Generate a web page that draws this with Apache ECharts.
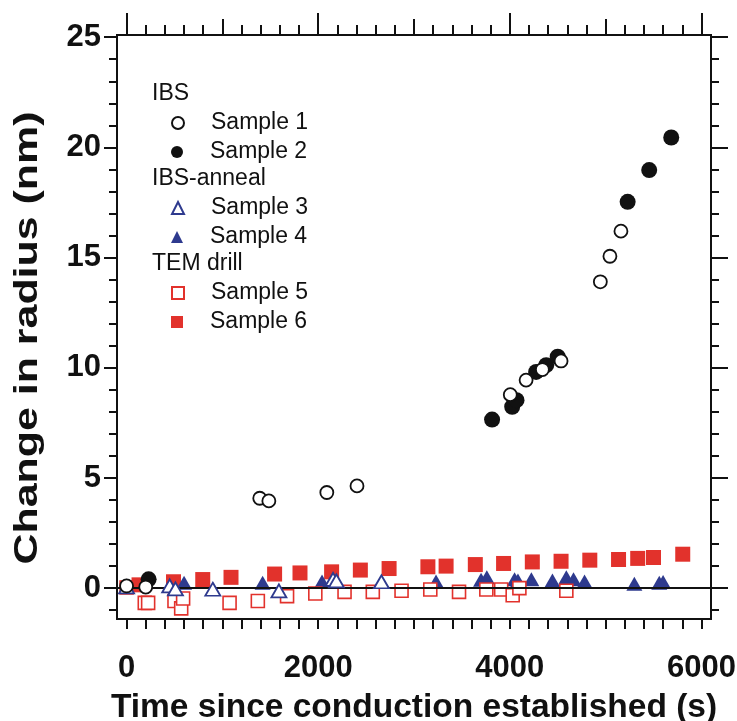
<!DOCTYPE html>
<html>
<head>
<meta charset="utf-8">
<script src="https://cdn.jsdelivr.net/npm/echarts@6/dist/echarts.min.js"></script>
<style>html,body{margin:0;padding:0;background:#fff;}#c{width:737px;height:721px;}</style>
</head>
<body>
<div id="c"></div>
<script>
// ---- data ----
const xTickLabels = [0, 2000, 4000, 6000];
const yTickLabels = [0, 5, 10, 15, 20, 25];

const s1x = [0, 200, 1390, 1485, 2090, 2405, 4005, 4170, 4340, 4535, 4945, 5045, 5160];
const s1y = [0.1, 0.05, 4.08, 3.96, 4.34, 4.64, 8.78, 9.44, 9.92, 10.31, 13.9, 15.06, 16.2];

const s2x = [230, 3815, 4025, 4070, 4275, 4380, 4500, 5230, 5455, 5685];
const s2y = [0.4, 7.65, 8.23, 8.53, 9.81, 10.12, 10.5, 17.53, 18.97, 20.45];

const s3x = [0, 450, 510, 900, 1590, 2155, 2190, 2660];
const s3y = [0.06, 0.1, -0.03, -0.05, -0.12, 0.4, 0.33, 0.29];

const s4x = [600, 1420, 2040, 3230, 3700, 3760, 4050, 4085, 4225, 4445, 4590, 4665, 4780, 5300, 5560, 5600];
const s4y = [0.25, 0.25, 0.3, 0.3, 0.38, 0.5, 0.4, 0.35, 0.4, 0.35, 0.5, 0.4, 0.3, 0.2, 0.25, 0.28];

const s5x = [0, 190, 225, 500, 570, 590, 1075, 1370, 1675, 1970, 2275, 2570, 2870, 3170, 3470, 3755, 3910, 4030, 4100, 4590];
const s5y = [0.03, -0.67, -0.67, -0.58, -0.92, -0.47, -0.67, -0.58, -0.36, -0.24, -0.17, -0.17, -0.12, -0.06, -0.17, -0.06, -0.06, -0.32, 0.0, -0.12];

const s6x = [130, 490, 795, 1090, 1545, 1810, 2140, 2440, 2740, 3145, 3335, 3640, 3935, 4235, 4535, 4835, 5135, 5335, 5500, 5805];
const s6y = [0.15, 0.29, 0.39, 0.49, 0.64, 0.69, 0.74, 0.82, 0.89, 0.97, 1.0, 1.07, 1.12, 1.19, 1.22, 1.27, 1.3, 1.35, 1.39, 1.54];

const groupHeaders = ['IBS', 'IBS-anneal', 'TEM drill'];
const sampleNames = ['Sample 1', 'Sample 2', 'Sample 3', 'Sample 4', 'Sample 5', 'Sample 6'];
const xTitle = 'Time since conduction established (s)';
const yTitle = 'Change in radius (nm)';

// ---- helpers ----
function pairs(xs, ys) { return xs.map((x, i) => [x, ys[i]]); }
function range(a, b, step) { const r = []; for (let v = a; v <= b + 1e-9; v += step) r.push(Math.round(v * 1000) / 1000); return r; }

const FONT = 'Liberation Sans';
const XMIN = -100, XMAX = 6100, YMIN = -1.4, YMAX = 25.1;
const BLACK = '#111111', BLUE = '#2e3a8e', RED = '#e2322c';

const chart = echarts.init(document.getElementById('c'), null, { renderer: 'canvas' });

const axLine = { show: true, onZero: false, lineStyle: { color: BLACK, width: 2 } };
const tickFont = { color: BLACK, fontFamily: FONT, fontWeight: 'bold', fontSize: 31, formatter: v => String(v) };
function xAx(pos, ticks, len, labels) {
  return {
    type: 'value', position: pos, min: XMIN, max: XMAX, gridIndex: 0,
    axisLine: axLine, splitLine: { show: false },
    axisTick: { show: true, inside: false, length: len, customValues: ticks, lineStyle: { color: BLACK, width: 2 } },
    axisLabel: labels ? Object.assign({ show: true, customValues: labels, margin: 34 }, tickFont) : { show: false }
  };
}
function yAx(pos, ticks, len, labels) {
  return {
    type: 'value', position: pos, min: YMIN, max: YMAX, gridIndex: 0,
    axisLine: axLine, splitLine: { show: false },
    axisTick: { show: true, inside: false, length: len, customValues: ticks, lineStyle: { color: BLACK, width: 2 } },
    axisLabel: labels ? Object.assign({ show: true, customValues: labels, margin: 16 }, tickFont) : { show: false }
  };
}

const xAxes = [
  Object.assign(xAx('bottom', range(0, 6000, 200), 10, xTickLabels), {
    name: xTitle, nameLocation: 'middle', nameGap: 72,
    nameTextStyle: { color: BLACK, fontFamily: FONT, fontWeight: 'bold', fontSize: 33.5 }
  }),
  xAx('top', [0, 2000, 4000, 6000], 22, null),
  xAx('top', [1000, 3000, 5000], 16, null),
  xAx('top', range(0, 6000, 200), 10, null)
];
const yAxes = [
  yAx('left', yTickLabels, 13, yTickLabels),
  yAx('left', range(-1, 25, 1), 8, null),
  yAx('right', yTickLabels, 17, null),
  yAx('right', range(-1, 25, 1), 8, null)
];

function sc(name, data, symbol, size, style, z) {
  return { type: 'scatter', name: name, data: data, symbol: symbol, symbolSize: size,
           itemStyle: Object.assign({ opacity: 1 }, style), z: z,
           xAxisIndex: 0, yAxisIndex: 0, emphasis: { disabled: true }, animation: false };
}

const series = [
  sc('Sample 6', pairs(s6x, s6y), 'rect', 15, { color: RED, borderWidth: 0 }, 2),
  sc('Sample 4', pairs(s4x, s4y), 'triangle', [16, 14], { color: BLUE, borderWidth: 0 }, 3),
  sc('Sample 5', pairs(s5x, s5y), 'rect', 13, { color: '#fff', borderColor: RED, borderWidth: 1.6 }, 4),
  sc('Sample 3', pairs(s3x, s3y), 'triangle', [15, 13], { color: '#fff', borderColor: BLUE, borderWidth: 1.8 }, 5),
  sc('Sample 2', pairs(s2x, s2y), 'circle', 16, { color: BLACK, borderWidth: 0 }, 6),
  sc('Sample 1', pairs(s1x, s1y), 'circle', 13, { color: '#fff', borderColor: BLACK, borderWidth: 1.8 }, 7)
];
// zero line
series[0].markLine = { silent: true, symbol: 'none', label: { show: false }, lineStyle: { color: BLACK, width: 2, type: 'solid' },
  data: [{ yAxis: 0 }], animation: false };

const legendCenters = [123, 152, 208, 237, 293, 322];
const legends = sampleNames.map((nm, i) => ({
  data: [nm], left: 171, top: legendCenters[i] - 12, orient: 'vertical', padding: 0,
  itemWidth: 12, itemHeight: 12, selectedMode: false,
  textStyle: { color: BLACK, fontFamily: FONT, fontSize: 23, lineHeight: 24, padding: [0, 0, 0, 22] }
}));

const headerY = [95, 180, 265];
const graphics = groupHeaders.map((t, i) => ({
  type: 'text', left: 152, top: headerY[i] - 13,
  style: { text: t, fill: BLACK, font: '23px "Liberation Sans"' }
}));
// y-axis title (stretched along its length as in the reference)
graphics.push({
  type: 'text', x: 28, y: 338, rotation: Math.PI / 2, scaleX: 1.3, scaleY: 1,
  style: { text: yTitle, fill: BLACK, font: 'bold 33px "Liberation Sans"', align: 'center', verticalAlign: 'middle' }
});

chart.setOption({
  animation: false,
  backgroundColor: '#fff',
  grid: { left: 117, right: 26, top: 35, bottom: 102, containLabel: false, outerBoundsMode: 'none' },
  xAxis: xAxes,
  yAxis: yAxes,
  legend: legends,
  graphic: graphics,
  series: series
});
</script>
</body>
</html>
